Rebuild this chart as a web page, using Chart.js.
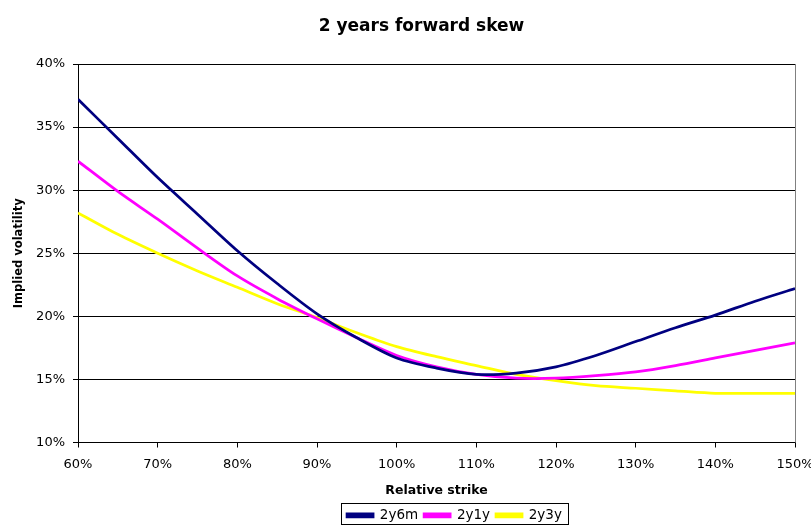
<!DOCTYPE html>
<html>
<head>
<meta charset="utf-8">
<script src="https://cdn.jsdelivr.net/npm/chart.js@4/dist/chart.umd.min.js"></script>
<style>
body{margin:0;background:#fff;}
#wrap{width:811px;height:525px;}
</style>
</head>
<body>
<div id="wrap"><canvas id="grafico" width="811" height="525"></canvas></div>
<script>
// strike en % (eje x)
var strikes=[60,65,70,75,80,85,90,95,100,105,110,115,120,125,130,135,140,145,150];
// volatilidad implicita en %
var vol2y6m=[37.2,34.1,31.0,28.1,25.2,22.6,20.2,18.3,16.7,15.9,15.4,15.5,16.0,16.9,18.0,19.1,20.1,21.2,22.2];
var vol2y1y=[32.3,29.9,27.7,25.4,23.2,21.4,19.8,18.3,16.9,16.0,15.4,15.1,15.1,15.3,15.6,16.1,16.7,17.3,17.9];
var vol2y3y=[28.2,26.5,25.0,23.6,22.3,21.0,19.9,18.7,17.6,16.8,16.1,15.4,14.9,14.5,14.3,14.1,13.9,13.9,13.9];
var nombres=['2y6m','2y1y','2y3y'];
var colores=['#000080','#ff00ff','#ffff00'];

var fuente='DejaVu Sans, Verdana, sans-serif';

function puntos(lista){
  var res=[];
  for(let i=0;i<strikes.length;i++){
    res.push({x:strikes[i],y:lista[i]});
  }
  return res;
}

var series=[vol2y6m,vol2y1y,vol2y3y];
var datasets=[];
for(let i=0;i<series.length;i++){
  datasets.push({
    label:nombres[i],
    data:puntos(series[i]),
    borderColor:colores[i],
    backgroundColor:colores[i],
    borderWidth:2.75,
    pointRadius:0,
    tension:0.3
  });
}

// borde gris del area, caja de la leyenda y desplazamiento del titulo/leyenda
var bordes={
  id:'bordes',
  afterLayout:function(chart){
    var t=chart.titleBlock;
    if(t){t.left+=24;t.right+=24;}
    var l=chart.legend;
    if(l){l.left+=57;l.right+=57;l.top+=7;l.bottom+=7;}
  },
  beforeDatasetsDraw:function(chart){
    var c=chart.ctx, a=chart.chartArea;
    c.save();
    c.strokeStyle='#808080';
    c.lineWidth=1;
    c.beginPath();
    c.moveTo(Math.round(a.right)+0.5,a.top);
    c.lineTo(Math.round(a.right)+0.5,a.bottom);
    c.stroke();
    c.restore();
  },
  afterDraw:function(chart){
    var hb=chart.legend.legendHitBoxes;
    if(!hb||!hb.length) return;
    var izq=hb[0].left, der=hb[hb.length-1].left+hb[hb.length-1].width;
    var c=chart.ctx;
    c.save();
    c.strokeStyle='#000';
    c.lineWidth=1;
    c.strokeRect(Math.round(izq)-5.5,503.5,Math.round(der-izq)+12,21);
    c.restore();
  }
};

var ctx=document.getElementById('grafico').getContext('2d');
var grafico=new Chart(ctx,{
  type:'line',
  data:{datasets:datasets},
  plugins:[bordes],
  options:{
    responsive:false,
    animation:false,
    layout:{padding:{left:0,right:16,top:0,bottom:0}},
    plugins:{
      title:{
        display:true,
        text:'2 years forward skew',
        color:'#000',
        font:{family:fuente,size:17,weight:'bold'},
        padding:{top:16,bottom:27.6}
      },
      legend:{
        position:'bottom',
        labels:{
          color:'#000',
          font:{family:fuente,size:13.5},
          boxWidth:26,
          boxHeight:3,
          padding:6
        }
      },
      tooltip:{enabled:false}
    },
    scales:{
      x:{
        type:'linear',
        min:60,max:150,
        afterFit:function(s){s.height=53;s.paddingLeft=0;s.paddingRight=0;},
        border:{color:'#000',width:1},
        grid:{display:true,drawOnChartArea:false,drawTicks:true,tickLength:5,color:'#000'},
        ticks:{stepSize:10,color:'#000',padding:9,maxRotation:0,
          font:{family:fuente,size:13},
          callback:function(v){return v+'%';}},
        title:{display:true,text:'Relative strike',color:'#000',
          font:{family:fuente,size:12.5,weight:'bold'},padding:{top:4,bottom:-3}}
      },
      y:{
        min:10,max:40,
        afterFit:function(s){s.width=78;},
        border:{color:'#000',width:1},
        grid:{color:'#000',tickLength:5,drawTicks:true},
        ticks:{stepSize:5,color:'#000',padding:8,
          font:{family:fuente,size:13},
          callback:function(v){return v+'%';}},
        title:{display:true,text:'Implied volatility',color:'#000',
          font:{family:fuente,size:11.5,weight:'bold'},padding:{top:12,bottom:0}}
      }
    }
  }
});
</script>
</body>
</html>
